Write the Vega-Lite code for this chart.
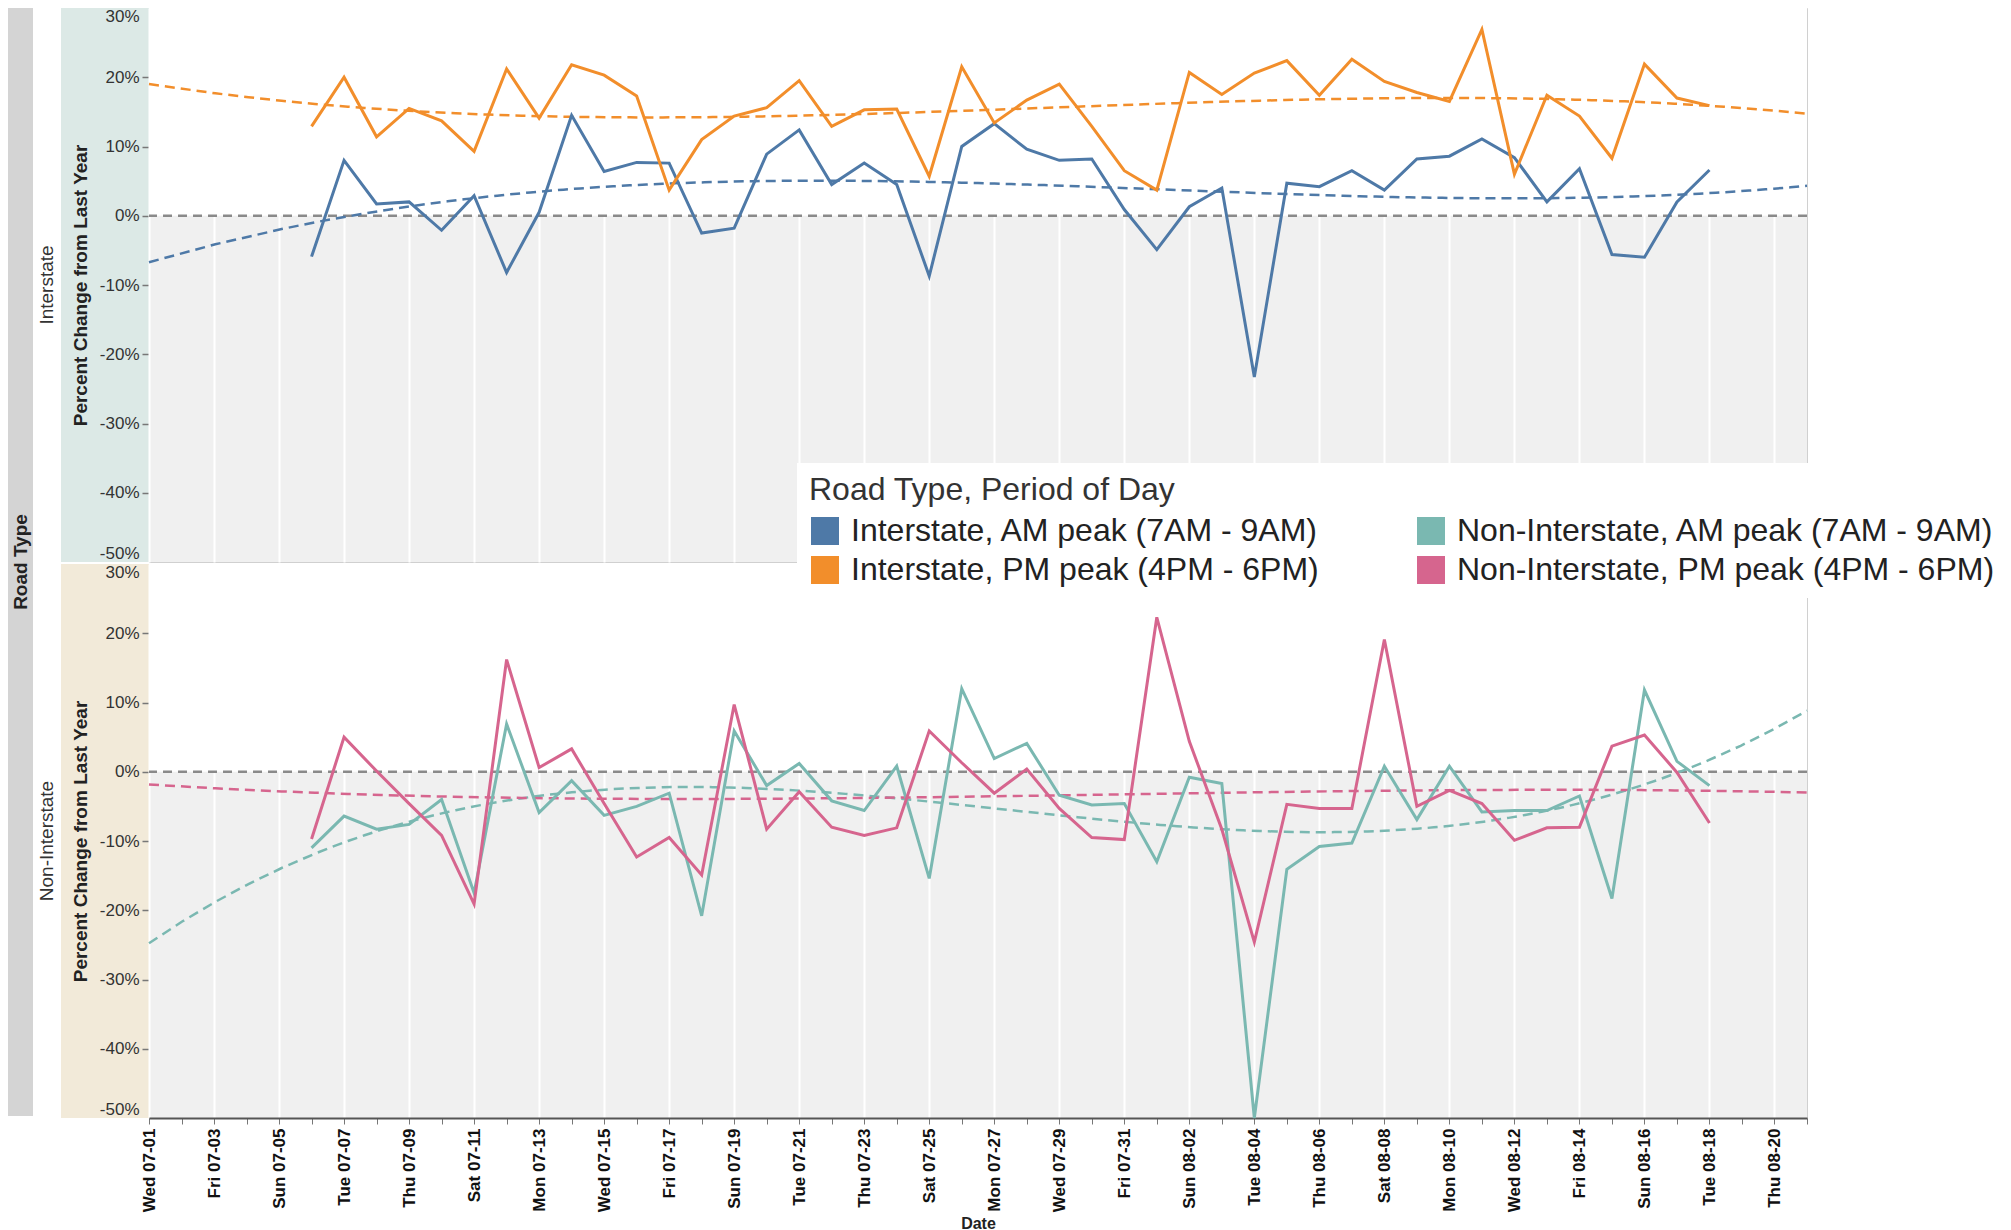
{
  "$schema": "https://vega.github.io/schema/vega-lite/v6.json",
  "padding": {"left": 8, "top": 7, "right": 0, "bottom": 0},
  "background": "white",
  "config": {
    "font": "Liberation Sans",
    "view": {"stroke": null},
    "axis": {"labelFont": "Liberation Sans", "titleFont": "Liberation Sans"},
    "legend": {
      "orient": "none", "legendX": 789, "legendY": 455,
      "fillColor": "white", "padding": 12,
      "titleFont": "Liberation Sans", "titleFontSize": 32, "titleFontWeight": "normal", "titleColor": "#333", "titlePadding": 8, "titleLimit": 1000,
      "labelFont": "Liberation Sans", "labelFontSize": 32, "labelColor": "#222", "labelLimit": 1000, "labelOffset": 10,
      "columns": 2, "columnPadding": 96, "rowPadding": 7,
      "symbolType": "square", "symbolSize": 784, "symbolStrokeWidth": 0
    }
  },
  "data": {"values": [
    {"series":"I-AM","day":6,"pct":-5.9},{"series":"I-AM","day":7,"pct":8.0},{"series":"I-AM","day":8,"pct":1.7},{"series":"I-AM","day":9,"pct":2.0},{"series":"I-AM","day":10,"pct":-2.1},{"series":"I-AM","day":11,"pct":2.9},{"series":"I-AM","day":12,"pct":-8.2},{"series":"I-AM","day":13,"pct":0.5},{"series":"I-AM","day":14,"pct":14.5},{"series":"I-AM","day":15,"pct":6.4},{"series":"I-AM","day":16,"pct":7.7},{"series":"I-AM","day":17,"pct":7.6},{"series":"I-AM","day":18,"pct":-2.5},{"series":"I-AM","day":19,"pct":-1.8},{"series":"I-AM","day":20,"pct":8.9},{"series":"I-AM","day":21,"pct":12.4},{"series":"I-AM","day":22,"pct":4.5},{"series":"I-AM","day":23,"pct":7.6},{"series":"I-AM","day":24,"pct":4.5},{"series":"I-AM","day":25,"pct":-8.7},{"series":"I-AM","day":26,"pct":10.0},{"series":"I-AM","day":27,"pct":13.3},{"series":"I-AM","day":28,"pct":9.6},{"series":"I-AM","day":29,"pct":8.0},{"series":"I-AM","day":30,"pct":8.2},{"series":"I-AM","day":31,"pct":0.9},{"series":"I-AM","day":32,"pct":-4.9},{"series":"I-AM","day":33,"pct":1.3},{"series":"I-AM","day":34,"pct":4.0},{"series":"I-AM","day":35,"pct":-23.3},{"series":"I-AM","day":36,"pct":4.7},{"series":"I-AM","day":37,"pct":4.2},{"series":"I-AM","day":38,"pct":6.5},{"series":"I-AM","day":39,"pct":3.7},{"series":"I-AM","day":40,"pct":8.2},{"series":"I-AM","day":41,"pct":8.6},{"series":"I-AM","day":42,"pct":11.1},{"series":"I-AM","day":43,"pct":8.4},{"series":"I-AM","day":44,"pct":2.0},{"series":"I-AM","day":45,"pct":6.8},{"series":"I-AM","day":46,"pct":-5.6},{"series":"I-AM","day":47,"pct":-6.0},{"series":"I-AM","day":48,"pct":2.0},{"series":"I-AM","day":49,"pct":6.6},
    {"series":"I-PM","day":6,"pct":12.9},{"series":"I-PM","day":7,"pct":20.0},{"series":"I-PM","day":8,"pct":11.4},{"series":"I-PM","day":9,"pct":15.5},{"series":"I-PM","day":10,"pct":13.7},{"series":"I-PM","day":11,"pct":9.3},{"series":"I-PM","day":12,"pct":21.2},{"series":"I-PM","day":13,"pct":14.1},{"series":"I-PM","day":14,"pct":21.8},{"series":"I-PM","day":15,"pct":20.3},{"series":"I-PM","day":16,"pct":17.3},{"series":"I-PM","day":17,"pct":3.7},{"series":"I-PM","day":18,"pct":11.0},{"series":"I-PM","day":19,"pct":14.4},{"series":"I-PM","day":20,"pct":15.6},{"series":"I-PM","day":21,"pct":19.5},{"series":"I-PM","day":22,"pct":12.9},{"series":"I-PM","day":23,"pct":15.3},{"series":"I-PM","day":24,"pct":15.4},{"series":"I-PM","day":25,"pct":5.7},{"series":"I-PM","day":26,"pct":21.5},{"series":"I-PM","day":27,"pct":13.4},{"series":"I-PM","day":28,"pct":16.7},{"series":"I-PM","day":29,"pct":19.0},{"series":"I-PM","day":30,"pct":12.9},{"series":"I-PM","day":31,"pct":6.5},{"series":"I-PM","day":32,"pct":3.7},{"series":"I-PM","day":33,"pct":20.7},{"series":"I-PM","day":34,"pct":17.5},{"series":"I-PM","day":35,"pct":20.6},{"series":"I-PM","day":36,"pct":22.4},{"series":"I-PM","day":37,"pct":17.4},{"series":"I-PM","day":38,"pct":22.6},{"series":"I-PM","day":39,"pct":19.4},{"series":"I-PM","day":40,"pct":17.8},{"series":"I-PM","day":41,"pct":16.5},{"series":"I-PM","day":42,"pct":26.9},{"series":"I-PM","day":43,"pct":6.0},{"series":"I-PM","day":44,"pct":17.4},{"series":"I-PM","day":45,"pct":14.4},{"series":"I-PM","day":46,"pct":8.3},{"series":"I-PM","day":47,"pct":21.9},{"series":"I-PM","day":48,"pct":17.0},{"series":"I-PM","day":49,"pct":15.9},
    {"series":"N-AM","day":6,"pct":-11.0},{"series":"N-AM","day":7,"pct":-6.4},{"series":"N-AM","day":8,"pct":-8.3},{"series":"N-AM","day":9,"pct":-7.6},{"series":"N-AM","day":10,"pct":-4.0},{"series":"N-AM","day":11,"pct":-17.5},{"series":"N-AM","day":12,"pct":6.9},{"series":"N-AM","day":13,"pct":-5.9},{"series":"N-AM","day":14,"pct":-1.3},{"series":"N-AM","day":15,"pct":-6.3},{"series":"N-AM","day":16,"pct":-5.0},{"series":"N-AM","day":17,"pct":-3.1},{"series":"N-AM","day":18,"pct":-20.8},{"series":"N-AM","day":19,"pct":5.9},{"series":"N-AM","day":20,"pct":-2.0},{"series":"N-AM","day":21,"pct":1.2},{"series":"N-AM","day":22,"pct":-4.2},{"series":"N-AM","day":23,"pct":-5.6},{"series":"N-AM","day":24,"pct":0.8},{"series":"N-AM","day":25,"pct":-15.4},{"series":"N-AM","day":26,"pct":12.0},{"series":"N-AM","day":27,"pct":1.9},{"series":"N-AM","day":28,"pct":4.1},{"series":"N-AM","day":29,"pct":-3.4},{"series":"N-AM","day":30,"pct":-4.8},{"series":"N-AM","day":31,"pct":-4.6},{"series":"N-AM","day":32,"pct":-13.0},{"series":"N-AM","day":33,"pct":-0.8},{"series":"N-AM","day":34,"pct":-1.7},{"series":"N-AM","day":35,"pct":-50.0},{"series":"N-AM","day":36,"pct":-14.1},{"series":"N-AM","day":37,"pct":-10.8},{"series":"N-AM","day":38,"pct":-10.3},{"series":"N-AM","day":39,"pct":0.8},{"series":"N-AM","day":40,"pct":-6.9},{"series":"N-AM","day":41,"pct":0.8},{"series":"N-AM","day":42,"pct":-5.8},{"series":"N-AM","day":43,"pct":-5.6},{"series":"N-AM","day":44,"pct":-5.6},{"series":"N-AM","day":45,"pct":-3.5},{"series":"N-AM","day":46,"pct":-18.3},{"series":"N-AM","day":47,"pct":11.8},{"series":"N-AM","day":48,"pct":1.5},{"series":"N-AM","day":49,"pct":-2.0},
    {"series":"N-PM","day":6,"pct":-9.7},{"series":"N-PM","day":7,"pct":5.0},{"series":"N-PM","day":8,"pct":0.1},{"series":"N-PM","day":9,"pct":-4.6},{"series":"N-PM","day":10,"pct":-9.2},{"series":"N-PM","day":11,"pct":-19.1},{"series":"N-PM","day":12,"pct":16.2},{"series":"N-PM","day":13,"pct":0.6},{"series":"N-PM","day":14,"pct":3.3},{"series":"N-PM","day":15,"pct":-4.6},{"series":"N-PM","day":16,"pct":-12.3},{"series":"N-PM","day":17,"pct":-9.5},{"series":"N-PM","day":18,"pct":-14.9},{"series":"N-PM","day":19,"pct":9.7},{"series":"N-PM","day":20,"pct":-8.3},{"series":"N-PM","day":21,"pct":-2.9},{"series":"N-PM","day":22,"pct":-8.0},{"series":"N-PM","day":23,"pct":-9.2},{"series":"N-PM","day":24,"pct":-8.1},{"series":"N-PM","day":25,"pct":5.9},{"series":"N-PM","day":26,"pct":1.3},{"series":"N-PM","day":27,"pct":-3.1},{"series":"N-PM","day":28,"pct":0.4},{"series":"N-PM","day":29,"pct":-5.3},{"series":"N-PM","day":30,"pct":-9.5},{"series":"N-PM","day":31,"pct":-9.8},{"series":"N-PM","day":32,"pct":22.3},{"series":"N-PM","day":33,"pct":4.4},{"series":"N-PM","day":34,"pct":-8.3},{"series":"N-PM","day":35,"pct":-24.6},{"series":"N-PM","day":36,"pct":-4.7},{"series":"N-PM","day":37,"pct":-5.3},{"series":"N-PM","day":38,"pct":-5.3},{"series":"N-PM","day":39,"pct":19.1},{"series":"N-PM","day":40,"pct":-5.0},{"series":"N-PM","day":41,"pct":-2.7},{"series":"N-PM","day":42,"pct":-4.6},{"series":"N-PM","day":43,"pct":-9.9},{"series":"N-PM","day":44,"pct":-8.1},{"series":"N-PM","day":45,"pct":-8.0},{"series":"N-PM","day":46,"pct":3.7},{"series":"N-PM","day":47,"pct":5.3},{"series":"N-PM","day":48,"pct":-0.1},{"series":"N-PM","day":49,"pct":-7.4}
  ]},
  "spacing": 4,
  "resolve": {"scale": {"color": "shared"}, "legend": {"color": "shared"}},
  "hconcat": [
    {
      "width": 25, "height": 1108,
      "view": {"fill": "#d4d4d4", "stroke": null},
      "data": {"values": [{"label": "Road Type"}]},
      "mark": {"type": "text", "angle": 270, "fontSize": 19, "fontWeight": "bold", "color": "#222", "font": "Liberation Sans"},
      "encoding": {"text": {"field": "label", "type": "nominal"}}
    },
    {
      "spacing": 0,
      "vconcat": [
        {
          "bounds": "flush",
          "spacing": 0,
          "hconcat": [
            {
              "width": 88, "height": 554,
              "view": {"fill": "#dce9e6", "stroke": null},
              "title": {"text": "Interstate", "orient": "left", "anchor": "middle", "fontSize": 19, "fontWeight": "normal", "color": "#333", "offset": 4, "font": "Liberation Sans"},
              "transform": [{"aggregate": [{"op": "max", "field": "pct", "as": "pct"}]}],
              "mark": {"type": "point", "opacity": 0},
              "encoding": {
                "y": {"field": "pct", "type": "quantitative", "scale": {"domain": [-50, 30], "nice": false, "zero": false},
                  "axis": {"offset": -88, "values": [-50, -40, -30, -20, -10, 0, 10, 20, 30], "labelExpr": "datum.value + '%'", "labelFlush": true, "labelFontSize": 17, "labelColor": "#333", "labelPadding": 3, "tickSize": 7, "tickWidth": 1.5, "tickColor": {"condition": {"test": "datum.value == 30 || datum.value == -50", "value": "transparent"}, "value": "#777"}, "domain": false, "grid": false, "title": "Percent Change from Last Year", "titleFontSize": 19, "titleFontWeight": "bold", "titleColor": "#222", "titlePadding": 9}}
              }
            },
            {
              "width": 1658, "height": 554,
              "view": {"fill": "#f0f0f0", "stroke": "#d0d0d0"},
              "transform": [{"filter": {"field": "series", "oneOf": ["I-AM", "I-PM"]}}],
              "layer": [
                {
                  "transform": [{"aggregate": [{"op": "count", "as": "n"}]}],
                  "mark": {"type": "rect", "color": "white"},
                  "encoding": {"y": {"datum": 30, "type": "quantitative", "scale": {"domain": [-50, 30], "nice": false, "zero": false}, "axis": null}, "y2": {"datum": 0}}
                },
                {
                  "transform": [{"aggregate": [{"op": "count", "as": "n"}]}],
                  "mark": {"type": "rule", "color": "#8a8a8a", "strokeWidth": 2.5, "strokeDash": [9, 6]},
                  "encoding": {"y": {"datum": 0, "type": "quantitative", "scale": {"domain": [-50, 30], "nice": false, "zero": false}, "axis": null}}
                },
                {
                  "encoding": {
                    "x": {"field": "day", "type": "quantitative", "scale": {"domain": [1, 52], "nice": false, "zero": false},
                      "axis": {"values": [1,2,3,4,5,6,7,8,9,10,11,12,13,14,15,16,17,18,19,20,21,22,23,24,25,26,27,28,29,30,31,32,33,34,35,36,37,38,39,40,41,42,43,44,45,46,47,48,49,50,51,52], "labels": false, "ticks": false, "domain": false, "title": null, "grid": true, "gridWidth": 2, "gridColor": {"condition": {"test": "datum.value % 2 == 1", "value": "#ffffff"}, "value": "transparent"}}},
                    "y": {"field": "pct", "type": "quantitative", "scale": {"domain": [-50, 30], "nice": false, "zero": false},
                      "axis": {"values": [-50, -40, -30, -20, -10, 0, 10, 20, 30], "labels": false, "ticks": false, "domain": false, "title": null, "grid": true, "gridColor": "#ffffff", "gridWidth": 2}},
                    "color": {"field": "series", "type": "nominal", "scale": {"domain": ["I-AM", "I-PM", "N-AM", "N-PM"], "range": ["#4e79a7", "#f28e2b", "#7ab8b1", "#d6658e"]},
                      "legend": {"title": "Road Type, Period of Day", "labelExpr": "datum.value == 'I-AM' ? 'Interstate, AM peak (7AM - 9AM)' : datum.value == 'I-PM' ? 'Interstate, PM peak (4PM - 6PM)' : datum.value == 'N-AM' ? 'Non-Interstate, AM peak (7AM - 9AM)' : 'Non-Interstate, PM peak (4PM - 6PM)'", "encode": {"symbols": {"update": {"fill": {"scale": "color", "field": "value"}, "opacity": {"value": 1}, "strokeWidth": {"value": 0}}}}}}
                  },
                  "layer": [
                    {"transform": [{"regression": "pct", "on": "day", "groupby": ["series"], "method": "poly", "order": 3, "extent": [1, 52]}], "mark": {"type": "line", "strokeWidth": 2.5, "strokeDash": [10, 6]}},
                    {"mark": {"type": "line", "strokeWidth": 3}}
                  ]
                }
              ]
            }
          ]
        },
        {
          "bounds": "flush",
          "spacing": 0,
          "hconcat": [
            {
              "width": 88, "height": 554,
              "view": {"fill": "#f2ead9", "stroke": null},
              "title": {"text": "Non-Interstate", "orient": "left", "anchor": "middle", "fontSize": 19, "fontWeight": "normal", "color": "#333", "offset": 4, "font": "Liberation Sans"},
              "transform": [{"aggregate": [{"op": "max", "field": "pct", "as": "pct"}]}],
              "mark": {"type": "point", "opacity": 0},
              "encoding": {
                "y": {"field": "pct", "type": "quantitative", "scale": {"domain": [-50, 30], "nice": false, "zero": false},
                  "axis": {"offset": -88, "values": [-50, -40, -30, -20, -10, 0, 10, 20, 30], "labelExpr": "datum.value + '%'", "labelFlush": true, "labelFontSize": 17, "labelColor": "#333", "labelPadding": 3, "tickSize": 7, "tickWidth": 1.5, "tickColor": {"condition": {"test": "datum.value == 30 || datum.value == -50", "value": "transparent"}, "value": "#777"}, "domain": false, "grid": false, "title": "Percent Change from Last Year", "titleFontSize": 19, "titleFontWeight": "bold", "titleColor": "#222", "titlePadding": 9}}
              }
            },
            {
              "width": 1658, "height": 554,
              "view": {"fill": "#f0f0f0", "stroke": "#d0d0d0"},
              "transform": [{"filter": {"field": "series", "oneOf": ["N-AM", "N-PM"]}}],
              "layer": [
                {
                  "transform": [{"aggregate": [{"op": "count", "as": "n"}]}],
                  "mark": {"type": "rect", "color": "white"},
                  "encoding": {"y": {"datum": 30, "type": "quantitative", "scale": {"domain": [-50, 30], "nice": false, "zero": false}, "axis": null}, "y2": {"datum": 0}}
                },
                {
                  "transform": [{"aggregate": [{"op": "count", "as": "n"}]}],
                  "mark": {"type": "rule", "color": "#8a8a8a", "strokeWidth": 2.5, "strokeDash": [9, 6]},
                  "encoding": {"y": {"datum": 0, "type": "quantitative", "scale": {"domain": [-50, 30], "nice": false, "zero": false}, "axis": null}}
                },
                {
                  "encoding": {
                    "x": {"field": "day", "type": "quantitative", "scale": {"domain": [1, 52], "nice": false, "zero": false},
                      "axis": {"values": [1,2,3,4,5,6,7,8,9,10,11,12,13,14,15,16,17,18,19,20,21,22,23,24,25,26,27,28,29,30,31,32,33,34,35,36,37,38,39,40,41,42,43,44,45,46,47,48,49,50,51,52], "labelExpr": "datum.value % 2 == 1 ? timeFormat(datetime(2020, 6, datum.value), '%a %m-%d') : ''", "labelAngle": 270, "labelAlign": "right", "labelBaseline": "middle", "labelOverlap": false, "labelFontSize": 17, "labelFontWeight": "bold", "labelColor": "#111", "labelPadding": 4, "tickSize": 6, "tickColor": "#777", "domainColor": "#555", "domainWidth": 2, "grid": true, "gridWidth": 2, "gridColor": {"condition": {"test": "datum.value % 2 == 1", "value": "#ffffff"}, "value": "transparent"}, "title": "Date", "titleFontSize": 16, "titleFontWeight": "bold", "titleColor": "#222", "titlePadding": 4}},
                    "y": {"field": "pct", "type": "quantitative", "scale": {"domain": [-50, 30], "nice": false, "zero": false},
                      "axis": {"values": [-50, -40, -30, -20, -10, 0, 10, 20, 30], "labels": false, "ticks": false, "domain": false, "title": null, "grid": true, "gridColor": "#ffffff", "gridWidth": 2}},
                    "color": {"field": "series", "type": "nominal", "scale": {"domain": ["I-AM", "I-PM", "N-AM", "N-PM"], "range": ["#4e79a7", "#f28e2b", "#7ab8b1", "#d6658e"]},
                      "legend": {"title": "Road Type, Period of Day", "labelExpr": "datum.value == 'I-AM' ? 'Interstate, AM peak (7AM - 9AM)' : datum.value == 'I-PM' ? 'Interstate, PM peak (4PM - 6PM)' : datum.value == 'N-AM' ? 'Non-Interstate, AM peak (7AM - 9AM)' : 'Non-Interstate, PM peak (4PM - 6PM)'", "encode": {"symbols": {"update": {"fill": {"scale": "color", "field": "value"}, "opacity": {"value": 1}, "strokeWidth": {"value": 0}}}}}}
                  },
                  "layer": [
                    {"transform": [{"regression": "pct", "on": "day", "groupby": ["series"], "method": "poly", "order": 3, "extent": [1, 52]}], "mark": {"type": "line", "strokeWidth": 2.5, "strokeDash": [10, 6]}},
                    {"mark": {"type": "line", "strokeWidth": 3}}
                  ]
                }
              ]
            }
          ]
        }
      ]
    }
  ]
}
